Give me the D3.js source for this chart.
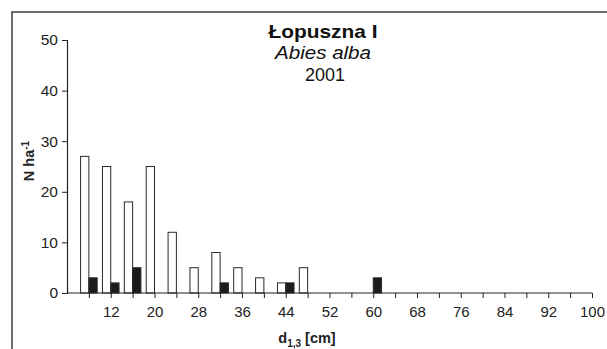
<!DOCTYPE html>
<html>
<head>
<meta charset="utf-8">
<script src="https://cdn.jsdelivr.net/npm/d3@7"></script>
<style>
  html, body { margin: 0; padding: 0; background: #fff; }
  svg { display: block; font-family: "Liberation Sans", Arial, sans-serif; }
</style>
</head>
<body>
<script>
// ---- data ----
const categories = [8, 12, 16, 20, 24, 28, 32, 36, 40, 44, 48, 52, 56, 60, 64, 68, 72, 76, 80, 84, 88, 92, 96, 100];
const seriesWhite = [27, 25, 18, 25, 12, 5, 8, 5, 3, 2, 5, 0, 0, 0, 0, 0, 0, 0, 0, 0, 0, 0, 0, 0];
const seriesBlack = [3, 2, 5, 0, 0, 0, 2, 0, 0, 2, 0, 0, 0, 3, 0, 0, 0, 0, 0, 0, 0, 0, 0, 0];
const xTickLabels = [12, 20, 28, 36, 44, 52, 60, 68, 76, 84, 92, 100];
const yTicks = [0, 10, 20, 30, 40, 50];
const titleLines = ["Łopuszna I", "Abies alba", "2001"];

// ---- layout ----
const W = 607, H = 349;
const svg = d3.select("body").append("svg").attr("width", W).attr("height", H);

// frame
svg.append("rect").attr("x", 12).attr("y", 12).attr("width", 620).attr("height", 400)
  .attr("fill", "none").attr("stroke", "#222").attr("stroke-width", 1.3);

const x = d3.scaleLinear().domain([4, 100]).range([67, 592]);
const y = d3.scaleLinear().domain([0, 50]).range([293, 40]);
const sub = d3.scaleBand().domain(["white", "black"]).range([-8.3, 8.3]).padding(0);

const rows = categories.map((c, i) => ({ c, white: seriesWhite[i], black: seriesBlack[i] }));

const g = svg.append("g");

// bars
["white", "black"].forEach(s => {
  g.selectAll("rect." + s)
    .data(rows.filter(d => d[s] > 0))
    .join("rect")
    .attr("class", s)
    .attr("x", d => x(d.c) + sub(s))
    .attr("width", sub.bandwidth())
    .attr("y", d => y(d[s]))
    .attr("height", d => y(0) - y(d[s]))
    .attr("fill", s === "white" ? "#fff" : "#1c1c1c")
    .attr("stroke", "#2a2a2a")
    .attr("stroke-width", 1);
});

// y axis
const yAxis = g.append("g").attr("transform", `translate(${x(4)},0)`)
  .call(d3.axisLeft(y).tickValues(yTicks).tickSize(5).tickPadding(4));
yAxis.select(".domain").attr("stroke", "#222").attr("stroke-width", 1.2);
yAxis.selectAll(".tick line").attr("stroke", "#222");
yAxis.selectAll("text").attr("font-size", 15.5).attr("fill", "#222")
  .attr("font-family", "Liberation Sans, Arial, sans-serif");

// x axis
const xAxis = g.append("g").attr("transform", `translate(0,${y(0)})`)
  .call(d3.axisBottom(x).tickValues(categories).tickSize(5).tickPadding(8)
    .tickFormat(d => xTickLabels.includes(d) ? d : ""));
xAxis.select(".domain").attr("stroke", "#222").attr("stroke-width", 1.2)
  .attr("d", `M${x(4)},0H${x(100)}`);
xAxis.selectAll(".tick line").attr("stroke", "#222");
xAxis.selectAll("text").attr("font-size", 15).attr("fill", "#222")
  .attr("font-family", "Liberation Sans, Arial, sans-serif");

// x title
const xt = svg.append("text").attr("x", 307).attr("y", 343)
  .attr("text-anchor", "middle").attr("font-weight", "bold").attr("font-size", 14.5).attr("fill", "#222");
xt.append("tspan").text("d");
xt.append("tspan").attr("font-size", 10).attr("dy", 4).text("1,3");
xt.append("tspan").attr("dy", -4).text(" [cm]");

// y title
const yt = svg.append("text").attr("transform", "translate(34,161) rotate(-90)")
  .attr("text-anchor", "middle").attr("font-weight", "bold").attr("font-size", 14.5).attr("fill", "#222");
yt.append("tspan").text("N ha");
yt.append("tspan").attr("font-size", 10).attr("dy", -5).text("-1");

// title
const tx = 323;
svg.append("text").attr("x", tx).attr("y", 37.5).attr("text-anchor", "middle")
  .attr("font-weight", "bold").attr("font-size", 18.5).attr("fill", "#111")
  .attr("textLength", 109).attr("lengthAdjust", "spacingAndGlyphs").text(titleLines[0]);
svg.append("text").attr("x", tx).attr("y", 59).attr("text-anchor", "middle")
  .attr("font-style", "italic").attr("font-size", 18.5).attr("fill", "#111")
  .attr("textLength", 96).attr("lengthAdjust", "spacingAndGlyphs").text(titleLines[1]);
svg.append("text").attr("x", tx + 2).attr("y", 81).attr("text-anchor", "middle")
  .attr("font-size", 18.5).attr("fill", "#111")
  .attr("textLength", 40).attr("lengthAdjust", "spacingAndGlyphs").text(titleLines[2]);
</script>
</body>
</html>
